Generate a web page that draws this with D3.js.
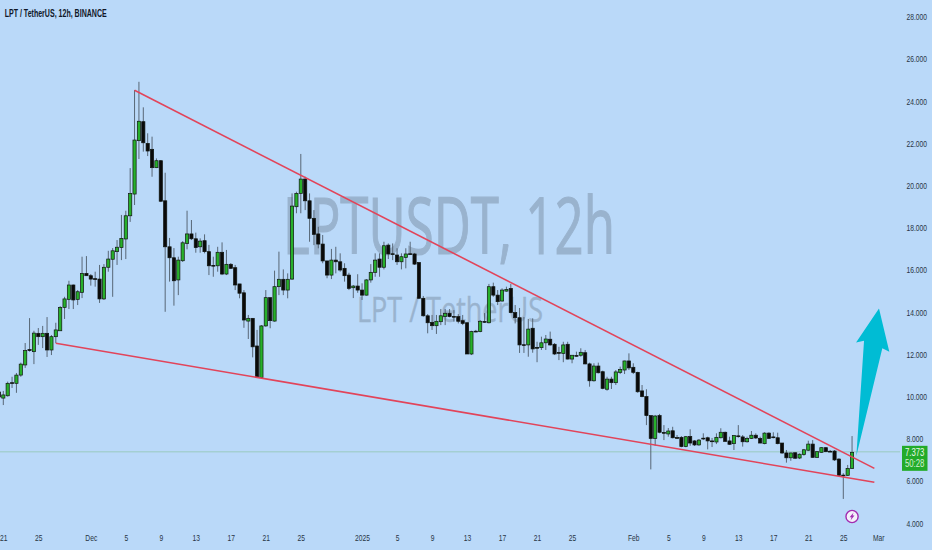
<!DOCTYPE html>
<html><head><meta charset="utf-8">
<script src="https://cdn.jsdelivr.net/npm/d3@7/dist/d3.min.js"></script>
<style>
html,body{margin:0;padding:0;background:#bad9f9;overflow:hidden}
svg{display:block}
.ax text{font-family:"Liberation Sans",sans-serif;font-size:9.6px;fill:#283544}
</style></head><body><svg id="c" width="932" height="550"></svg>
<script>
const opens=[10.21,9.92,10.03,10.65,10.62,11.01,11.49,12.22,12.12,12.99,
12.83,12.99,12.20,12.83,13.11,14.22,14.60,15.28,14.60,14.93,
15.83,15.72,15.58,15.56,14.62,16.12,16.50,16.86,17.05,17.46,
18.56,19.59,22.12,23.02,21.99,21.71,20.84,21.17,19.27,17.09,
16.57,15.52,16.43,17.25,17.70,17.47,17.09,17.38,16.86,16.21,
16.19,16.83,15.80,16.26,16.10,15.33,14.91,13.57,13.70,12.39,
10.90,13.34,14.68,13.57,15.20,15.55,15.04,15.56,18.99,19.62,
20.30,19.27,18.44,17.70,17.22,16.42,15.75,16.46,16.38,16.07,
15.75,15.15,15.23,15.04,14.80,15.52,15.88,16.51,16.12,17.17,
16.76,16.70,16.38,16.59,16.76,16.75,16.34,14.65,13.82,13.51,
13.35,13.54,13.78,13.94,13.79,13.78,13.59,13.49,12.01,13.09,
13.07,13.55,13.49,15.20,14.80,14.52,14.99,15.12,13.97,13.73,
12.45,12.44,13.23,12.32,12.31,12.54,12.71,12.47,12.08,12.04,
12.47,11.77,11.94,11.95,12.07,11.54,10.74,11.44,11.17,10.34,
10.82,10.65,11.14,11.25,11.68,11.38,11.14,10.26,9.99,9.09,
8.01,9.09,8.29,8.22,8.37,8.05,8.06,7.62,8.10,7.89,
7.70,8.02,8.04,7.89,7.84,8.04,8.30,7.89,7.76,8.13,
8.08,7.85,8.01,8.16,8.01,7.76,8.26,8.08,8.04,7.79,
7.32,7.09,7.33,7.08,7.24,7.45,7.74,7.11,7.35,7.57,
7.40,7.41,7.03,6.27,6.26,6.59];
const closes=[9.97,10.07,10.62,10.62,11.01,11.53,12.17,12.17,13.00,12.83,
12.99,12.20,12.83,13.15,14.22,14.62,15.28,14.57,14.96,15.83,
15.72,15.56,15.56,14.62,16.12,16.51,16.90,17.07,17.49,18.56,
19.61,22.15,23.04,22.02,21.63,20.84,21.17,19.25,17.09,16.57,
15.48,16.46,17.28,17.70,17.47,17.05,17.36,16.86,16.19,16.19,
16.83,15.80,16.26,16.07,15.28,14.89,13.62,13.70,12.35,10.90,
13.34,14.68,13.59,15.20,15.55,15.04,15.55,19.02,19.62,20.30,
19.27,18.44,17.68,17.22,16.42,15.75,16.46,16.38,15.99,15.72,
15.12,15.23,15.04,14.80,15.52,15.88,16.46,16.12,17.14,16.75,
16.75,16.38,16.62,16.75,16.75,16.27,14.65,13.82,13.49,13.35,
13.56,13.82,13.94,13.78,13.78,13.56,13.46,12.01,13.07,13.08,
13.56,13.54,15.20,14.80,14.49,15.04,15.07,13.97,13.73,12.44,
12.44,13.19,12.25,12.31,12.54,12.72,12.44,12.01,12.07,12.44,
11.77,11.95,11.93,12.09,11.54,10.74,11.44,11.12,10.38,10.82,
10.65,11.16,11.28,11.68,11.35,11.14,10.22,9.99,9.09,8.01,
9.07,8.30,8.28,8.36,8.04,8.04,7.62,8.09,7.79,7.70,
7.93,8.01,7.89,7.88,8.06,8.30,7.87,7.73,8.14,8.12,
7.85,8.01,8.16,8.03,7.79,8.26,8.01,8.07,7.76,7.32,
7.09,7.32,7.07,7.26,7.47,7.74,7.11,7.38,7.57,7.38,
7.39,6.99,6.26,6.26,6.59,7.35];
const highs=[10.30,10.26,10.70,10.93,11.11,11.60,12.53,13.71,13.11,13.24,
13.34,13.76,12.91,13.49,14.28,14.72,15.48,15.30,15.04,16.62,
16.65,15.80,15.91,16.23,16.27,16.90,17.03,17.41,18.60,18.80,
20.82,24.52,24.91,23.70,22.47,22.31,21.28,21.20,20.60,17.51,
17.03,16.62,17.36,18.80,18.36,17.76,17.49,17.68,17.18,16.62,
17.09,17.30,16.94,16.32,16.23,15.33,15.04,13.86,13.71,13.15,
13.38,15.04,14.68,15.96,16.86,16.02,15.83,19.62,19.70,21.49,
20.41,19.62,18.83,18.04,17.65,16.42,16.99,17.09,16.78,16.31,
15.86,15.28,15.79,15.36,15.56,16.27,16.78,16.78,17.33,17.25,
17.25,17.02,16.78,17.02,17.33,16.80,16.37,14.76,13.90,13.86,
13.86,14.14,14.14,14.14,14.09,13.90,13.86,13.53,13.11,13.15,
13.62,13.95,15.33,15.39,15.04,15.12,15.20,15.33,14.33,14.19,
13.76,13.67,13.70,12.59,12.83,12.91,13.07,12.53,12.35,12.59,
12.59,11.96,12.12,12.28,12.20,11.60,11.57,11.60,11.22,10.93,
10.93,11.25,11.41,11.69,12.04,11.57,11.17,10.54,10.34,9.09,
9.12,9.17,8.64,8.50,8.56,8.17,8.12,8.12,8.44,7.93,
7.98,8.25,8.09,8.03,8.25,8.49,8.33,8.09,8.17,8.64,
8.17,8.09,8.36,8.25,8.09,8.30,8.30,8.30,8.28,7.79,
7.46,7.33,7.35,7.30,7.51,7.90,7.93,7.41,7.59,7.59,
7.46,7.46,7.07,6.36,6.75,8.12];
const lows=[9.83,9.59,9.99,10.40,10.17,10.93,11.35,12.12,11.53,12.44,
12.29,11.87,11.96,12.53,13.10,13.67,14.14,14.14,14.33,14.66,
15.71,15.25,15.20,14.43,14.57,15.91,14.72,16.23,16.46,16.51,
18.27,19.07,21.25,21.60,21.39,20.41,20.82,19.21,14.01,15.44,
14.30,14.80,16.37,16.97,17.41,16.81,16.81,16.78,15.75,15.67,
15.91,15.75,15.75,16.04,15.04,14.65,13.25,12.72,11.85,10.90,
10.88,13.30,13.23,13.54,14.80,14.80,14.65,15.52,18.68,18.68,
18.83,17.33,17.17,17.02,16.31,15.60,15.56,15.83,15.91,15.44,
15.04,14.66,14.91,14.57,14.78,15.39,15.67,15.67,16.02,16.51,
16.46,16.23,16.02,16.07,16.70,16.23,14.62,13.78,12.99,13.15,
12.96,13.38,13.38,13.75,13.54,13.46,13.38,12.01,11.96,13.04,
13.04,13.48,13.46,14.72,14.33,14.49,14.96,13.94,13.46,12.06,
12.06,11.88,12.07,11.62,12.20,12.20,12.40,11.96,11.72,11.62,
11.75,11.57,11.88,11.88,11.52,10.46,10.70,11.09,10.34,10.27,
10.35,10.54,11.06,11.06,11.25,11.06,10.17,9.96,8.64,6.54,
7.66,8.25,7.93,8.09,8.01,7.98,7.59,7.59,7.66,7.65,
7.66,7.93,7.49,7.60,7.74,8.01,7.85,7.70,7.46,8.04,
7.62,7.81,7.98,7.98,7.78,7.73,7.98,8.01,7.73,7.27,
6.86,6.95,7.03,7.03,7.19,7.41,7.09,7.09,7.33,7.36,
7.36,6.94,6.23,5.14,6.23,6.56];

// x positions are days counted from 21 Nov
const firstDay=-0.5, dayStep=0.5;
const xTickDays=[0,4,10,14,18,22,26,30,34,41,45,49,53,57,61,65,72,76,80,84,88,92,96,100];
const xTickLabels=["21","25","Dec","5","9","13","17","21","25","2025","5","9","13","17","21","25","Feb","5","9","13","17","21","25","Mar"];
const yTicks=[4,6,8,10,12,14,16,18,20,22,24,26,28];
const upperDays=[15.0,99.55], upperPrices=[24.51,6.59];
const lowerDays=[6.0,99.55], lowerPrices=[12.52,5.93];
const arrowDays=[100.08,101.26,100.46,97.49,98.37,97.46];
const arrowPrices=[14.17,12.12,12.28,7.18,12.64,12.56];
const lastPrice=7.373, lastText="7.373", countdown="50:28";
const narrow=0.7;

const x=d3.scaleLinear().domain([0,100]).range([3.3,878.3]);
const y=d3.scaleLinear().domain([4,28]).range([523,16.6]);
const svg=d3.select("#c");
svg.append("rect").attr("width",932).attr("height",550).attr("fill","#bad9f9");

// squeeze a text horizontally about its own x to the narrow face of the reference
function squeeze(sel,f){sel.each(function(){
  const t=d3.select(this), px=+t.attr("x")||0;
  t.attr("transform",`translate(${px*(1-f)},0) scale(${f},1)`);});}

// watermarks
const wm=svg.append("g").attr("font-family","Open Sans, sans-serif").attr("fill","#6d7f94").attr("stroke","#6d7f94").attr("opacity",0.42);
wm.append("text").attr("x",283).attr("y",254).attr("font-size",78).attr("stroke-width",1.2).attr("textLength",332).attr("lengthAdjust","spacingAndGlyphs").text("LPTUSDT, 12h");
wm.append("text").attr("x",357).attr("y",322).attr("font-size",34).attr("stroke-width",0.4).attr("textLength",186).attr("lengthAdjust","spacingAndGlyphs").text("LPT / TetherUS");

// last price line
svg.append("line").attr("x1",0).attr("x2",900).attr("y1",y(lastPrice)).attr("y2",y(lastPrice))
  .attr("stroke","#7fbf8f").attr("stroke-opacity",0.55).attr("stroke-width",1);

// candles
const candles=opens.map((o,i)=>({day:firstDay+i*dayStep,o,c:closes[i],h:highs[i],l:lows[i]}));
const g=svg.append("g");
g.selectAll("line.w").data(candles).join("line").attr("class","w")
  .attr("x1",d=>x(d.day)).attr("x2",d=>x(d.day)).attr("y1",d=>y(d.h)).attr("y2",d=>y(d.l))
  .attr("stroke","#4d5a68").attr("stroke-width",0.9);
g.selectAll("rect.b").data(candles).join("rect").attr("class","b")
  .attr("x",d=>x(d.day)-1.6).attr("width",3.2)
  .attr("y",d=>y(Math.max(d.o,d.c)))
  .attr("height",d=>Math.max(0.8,Math.abs(y(d.o)-y(d.c))))
  .attr("fill",d=>d.c>=d.o?"#27b02b":"#0a0a0a")
  .attr("stroke","#101510").attr("stroke-width",0.7);

// trend lines
const tl=d3.line().x(d=>x(d[0])).y(d=>y(d[1]));
[[upperDays,upperPrices],[lowerDays,lowerPrices]].forEach(([ds,ps])=>{
  svg.append("path").attr("d",tl(ds.map((t,i)=>[t,ps[i]]))).attr("fill","none")
    .attr("stroke","#e2445a").attr("stroke-width",1.6);
});

// arrow
svg.append("path").attr("d",tl(arrowDays.map((t,i)=>[t,arrowPrices[i]]))+"Z").attr("fill","#00bcd4");

// axes
const yAxis=d3.axisRight(y).tickValues(yTicks).tickSize(0).tickPadding(0).tickFormat(d3.format(".3f"));
const ya=svg.append("g").attr("class","ax").attr("transform","translate(906.5,0)").call(yAxis);
ya.select(".domain").remove();
squeeze(ya.selectAll("text"),narrow);
const xAxis=d3.axisBottom(x).tickValues(xTickDays).tickSize(0).tickPadding(0).tickFormat((d,i)=>xTickLabels[i]);
const xa=svg.append("g").attr("class","ax").attr("transform","translate(0,534)").call(xAxis);
xa.select(".domain").remove();
squeeze(xa.selectAll("text"),narrow);

// title
svg.append("text").attr("x",4.7).attr("y",16.5)
  .attr("font-family","Liberation Sans, sans-serif").attr("font-size",10.2).attr("font-weight",700).attr("fill","#101828")
  .attr("textLength",102).attr("lengthAdjust","spacingAndGlyphs").text("LPT / TetherUS, 12h, BINANCE");

// price badge
const badge=svg.append("g");
badge.append("rect").attr("x",902).attr("y",y(lastPrice)-6).attr("width",25.5).attr("height",25).attr("fill","#22ab2a");
const b1=badge.append("text").attr("x",914.7).attr("y",y(lastPrice)+3.8).attr("text-anchor","middle")
  .attr("font-family","Liberation Sans, sans-serif").attr("font-size",10.4).attr("fill","#eaf7ea").text(lastText);
const b2=badge.append("text").attr("x",914.7).attr("y",y(lastPrice)+15.5).attr("text-anchor","middle")
  .attr("font-family","Liberation Sans, sans-serif").attr("font-size",10.4).attr("fill","#d3efd3").text(countdown);
squeeze(b1,narrow+0.05); squeeze(b2,narrow+0.05);

// lightning marker
const mk=svg.append("g").attr("transform",`translate(${x(firstDay+(opens.length-1)*dayStep)},516.5)`);
mk.append("circle").attr("r",6.1).attr("fill","#f4f0fa").attr("stroke","#a22bb0").attr("stroke-width",1.4);
mk.append("path").attr("d","M1.5,-4 L-2.4,0.8 L-0.5,0.8 L-1.5,4 L2.4,-1 L0.5,-1 Z").attr("fill","#a22bb0");
</script></body></html>
